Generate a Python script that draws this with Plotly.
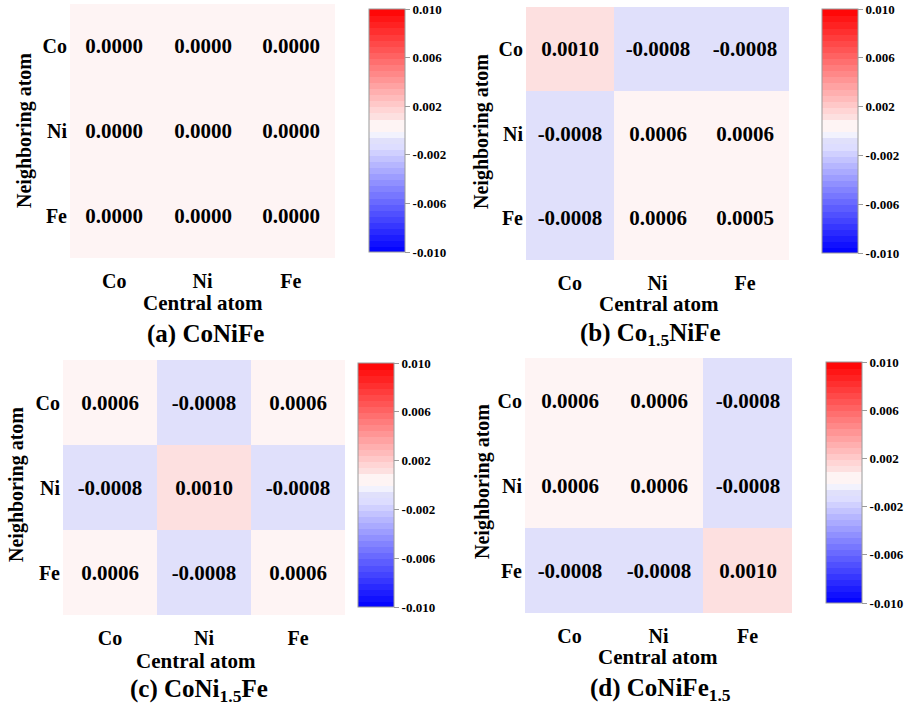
import plotly.graph_objects as go

# ---------------- data ----------------
central = ["Co", "Ni", "Fe"]      # x (central atom)
neighbor = ["Co", "Ni", "Fe"]     # y (neighboring atom)

z_a = [[0.0000, 0.0000, 0.0000],
       [0.0000, 0.0000, 0.0000],
       [0.0000, 0.0000, 0.0000]]
z_b = [[0.0010, -0.0008, -0.0008],
       [-0.0008, 0.0006, 0.0006],
       [-0.0008, 0.0006, 0.0005]]
z_c = [[0.0006, -0.0008, 0.0006],
       [-0.0008, 0.0010, -0.0008],
       [0.0006, -0.0008, 0.0006]]
z_d = [[0.0006, 0.0006, -0.0008],
       [0.0006, 0.0006, -0.0008],
       [-0.0008, -0.0008, 0.0010]]

titles = ["(a) CoNiFe", "(b) Co<sub>1.5</sub>NiFe",
          "(c) CoNi<sub>1.5</sub>Fe", "(d) CoNiFe<sub>1.5</sub>"]
cb_tickvals = [-0.010, -0.006, -0.002, 0.002, 0.006, 0.010]
cb_ticktext = ["-0.010", "-0.006", "-0.002", "0.002", "0.006", "0.010"]
ZMIN, ZMAX = -0.01, 0.01

# ---------------- style / layout ----------------
W, H = 911, 711
FONT = "Liberation Serif, DejaVu Serif, serif"


def px_x(p):
    return p / W


def px_y(p):
    return 1 - p / H


# discrete bwr-like colorscale (40 bands, shifted slightly so no value falls on an edge)
NB = 40
STEP = 0.0005
shift = -0.0001
edges = [ZMIN] + [ZMIN + (k + 1) * STEP + shift for k in range(NB - 1)] + [ZMAX]


def bwr(v):
    t = max(-1.0, min(1.0, v / 0.01))
    if t >= 0:
        g = round(255 * (1 - t))
        return (255, g, g)
    g = round(255 * (1 + t))
    return (g, g, 255)


colorscale = []
for k in range(NB):
    lo, hi = edges[k], edges[k + 1]
    c = (lo + hi) / 2
    if -0.0002 < c < 0.0007:
        col = (254, 244, 244)
    elif 0.0009 < c < 0.0013:
        col = (253, 224, 224)
    elif -0.0010 < c < -0.0007:
        col = (224, 224, 251)
    elif -0.0006 < c < -0.0002:
        col = (242, 242, 253)
    else:
        col = bwr(c)
    s = "rgb(%d,%d,%d)" % col
    colorscale.append([(lo - ZMIN) / (ZMAX - ZMIN), s])
    colorscale.append([(hi - ZMIN) / (ZMAX - ZMIN), s])

# panel geometry in pixels: heatmap (l, r, t, b), colorbar (l, t, b)
panels = [
    dict(z=z_a, hm=(70, 335, 4, 258), cb=(369, 9, 252),
         xt=(203, 303), tt=(205, 334), yt=(24, 131)),
    dict(z=z_b, hm=(526, 789, 7, 260), cb=(822, 9, 253),
         xt=(659, 304), tt=(650, 334), yt=(482, 132)),
    dict(z=z_c, hm=(63, 345, 360, 615), cb=(358, 363, 607),
         xt=(196, 661), tt=(199, 690), yt=(16, 485)),
    dict(z=z_d, hm=(525, 792, 358, 613), cb=(826, 362, 603),
         xt=(658, 657), tt=(660, 689), yt=(482, 482)),
]

fig = go.Figure()
annotations = []
layout_axes = {}

for i, p in enumerate(panels):
    n = i + 1
    xa = "x" if n == 1 else "x%d" % n
    ya = "y" if n == 1 else "y%d" % n
    l, r, t, b = p["hm"]
    cl, ct, cbm = p["cb"]
    fig.add_trace(go.Heatmap(
        z=p["z"], x=central, y=neighbor, xaxis=xa, yaxis=ya,
        zmin=ZMIN, zmax=ZMAX, colorscale=colorscale,
        texttemplate="%{z:.4f}",
        textfont=dict(family=FONT, size=21, color="black", weight="bold"),
        xgap=0, ygap=0, hoverinfo="skip",
        colorbar=dict(
            x=px_x(cl), xanchor="left", xref="paper",
            y=px_y(ct), yanchor="top", yref="paper",
            len=cbm - ct, lenmode="pixels",
            thickness=36, thicknessmode="pixels",
            xpad=0, ypad=0,
            outlinewidth=1, outlinecolor="#9a9a9a",
            tickvals=cb_tickvals, ticktext=cb_ticktext,
            ticks="outside", ticklen=5, tickcolor="#9a9a9a", tickwidth=1,
            tickfont=dict(family=FONT, size=13, color="black", weight="bold"),
        ),
    ))
    xkey = "xaxis" if n == 1 else "xaxis%d" % n
    ykey = "yaxis" if n == 1 else "yaxis%d" % n
    layout_axes[xkey] = dict(
        domain=[px_x(l), px_x(r)], anchor=ya, showgrid=False, zeroline=False,
        showline=False, ticks="", ticklabelstandoff=9,
        tickfont=dict(family=FONT, size=20, color="black", weight="bold"),
        fixedrange=True)
    layout_axes[ykey] = dict(
        domain=[px_y(b), px_y(t)], anchor=xa, showgrid=False, zeroline=False,
        showline=False, ticks="", autorange="reversed", ticklabelstandoff=2,
        tickfont=dict(family=FONT, size=20, color="black", weight="bold"),
        fixedrange=True)
    annotations.append(dict(
        text="Central atom", x=px_x(p["xt"][0]), y=px_y(p["xt"][1]),
        xref="paper", yref="paper", xanchor="center", yanchor="middle",
        showarrow=False, font=dict(family=FONT, size=21, color="black", weight="bold")))
    annotations.append(dict(
        text=titles[i], x=px_x(p["tt"][0]), y=px_y(p["tt"][1]),
        xref="paper", yref="paper", xanchor="center", yanchor="middle",
        showarrow=False, font=dict(family=FONT, size=25, color="black", weight="bold")))
    annotations.append(dict(
        text="Neighboring atom", x=px_x(p["yt"][0]), y=px_y(p["yt"][1]),
        xref="paper", yref="paper", xanchor="center", yanchor="middle",
        textangle=-90, showarrow=False,
        font=dict(family=FONT, size=20, color="black", weight="bold")))

fig.update_layout(
    width=W, height=H, margin=dict(l=0, r=0, t=0, b=0),
    paper_bgcolor="white", plot_bgcolor="white",
    annotations=annotations, showlegend=False,
    font=dict(family=FONT),
    **layout_axes,
)

fig.write_html("out.html")
